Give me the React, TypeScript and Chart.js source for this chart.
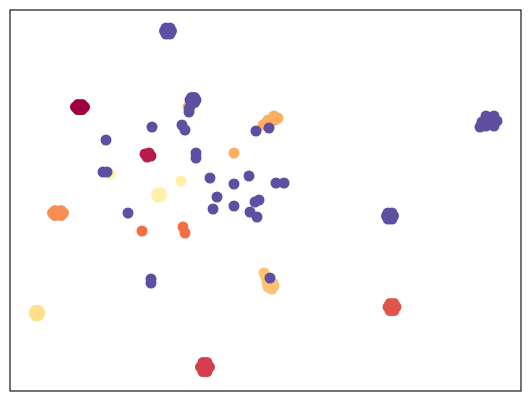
import React, { useEffect, useRef } from "react";
import { Chart, registerables } from "chart.js";

Chart.register(...registerables);

type P = [number, number];

const purple: P[] = [
  [158, 21], [161.5, 21], [160, 24], [156, 24], [154.5, 21], [156, 18], [160, 18],
  [183, 90], [186, 90], [184.5, 92.6], [181.5, 92.6], [180, 90], [181.5, 87.4], [184.5, 87.4],
  [179.5, 98], [179, 102],
  [142, 117], [172, 115], [175, 120], [96, 130], [186, 143], [186, 148],
  [93, 162], [97, 162], [200, 168], [224, 174], [239, 166], [266, 173], [274, 173],
  [207, 187], [203, 199], [224, 196], [245, 192], [249, 190], [240, 202], [247, 207],
  [246, 121], [259, 118], [118, 203], [141, 269], [141, 273], [260, 268],
  [479, 111], [487, 111], [484, 116], [476, 116], [472, 112], [476, 106], [484, 106], [480, 108], [480, 114], [470, 117],
  [380, 206], [383.5, 206], [382, 209], [378, 209], [376.5, 206], [378, 203], [382, 203],
];
const maroon: P[] = [[70, 97], [74.5, 97], [72, 99.5], [68, 99.5], [65.5, 97], [68, 94.5], [72, 94.5]];
const crimson: P[] = [[138, 145], [141, 146], [135, 144], [137, 147], [139, 143]];
const red: P[] = [[195, 357], [199.5, 357], [197, 361.5], [193, 361.5], [190.5, 357], [193, 352.5], [197, 352.5]];
const redOrange: P[] = [[382, 297], [386, 297], [384, 300.5], [380, 300.5], [378, 297], [380, 293.5], [384, 293.5]];
const orange: P[] = [[132, 221], [173, 217], [175, 223]];
const orange2: P[] = [[48, 203], [53.5, 203], [51, 205.5], [45, 205.5], [42.5, 203], [45, 200.5], [51, 200.5]];
const lightOrange: P[] = [
  [224, 143], [253, 115], [258, 110], [264, 106], [268, 108], [261, 112], [265, 110], [256, 113], [178, 97],
];
const lighterOrange: P[] = [
  [254, 263], [260, 278], [263, 273], [257, 273], [256, 268], [259, 272], [264, 276], [262, 279], [258, 277],
];
const yellow: P[] = [[27, 303], [30, 303], [28.5, 305.6], [25.5, 305.6], [24, 303], [25.5, 300.4], [28.5, 300.4]];
const paleYellow: P[] = [[149, 185], [151.5, 185], [150, 187], [147.5, 187], [146.5, 185], [148, 183], [151, 183], [171, 171], [100, 164]];

const groups: { pts: P[]; color: string }[] = [
  { pts: purple, color: "#5e4fa2" },
  { pts: maroon, color: "#9e0142" },
  { pts: crimson, color: "#b81b4a" },
  { pts: red, color: "#d53e4f" },
  { pts: redOrange, color: "#e1564a" },
  { pts: orange, color: "#f46d43" },
  { pts: orange2, color: "#f98e52" },
  { pts: lightOrange, color: "#fdae61" },
  { pts: lighterOrange, color: "#fec272" },
  { pts: yellow, color: "#fee08b" },
  { pts: paleYellow, color: "#fff0a6" },
];

const framePlugin = {
  id: "frame",
  afterDraw(chart: any) {
    const { ctx, chartArea } = chart;
    ctx.save();
    ctx.strokeStyle = "#000";
    ctx.lineWidth = 1.1;
    ctx.strokeRect(chartArea.left, chartArea.top, chartArea.right - chartArea.left, chartArea.bottom - chartArea.top);
    ctx.restore();
  },
};

export default function App() {
  const ref = useRef<HTMLCanvasElement>(null);
  useEffect(() => {
    document.body.style.margin = "0";
    const chart = new Chart(ref.current!, {
      type: "scatter",
      data: {
        datasets: groups.map((g) => ({
          data: g.pts.map(([x, y]) => ({ x, y })),
          backgroundColor: g.color,
          borderWidth: 0,
          pointRadius: 5.5,
        })),
      },
      options: {
        animation: false,
        responsive: false,
        layout: { padding: { left: 10, top: 10, right: 10, bottom: 10 } },
        plugins: { legend: { display: false }, tooltip: { enabled: false } },
        scales: {
          x: { display: false, min: 0, max: 511 },
          y: { display: false, min: 0, max: 381, reverse: true },
        },
      },
      plugins: [framePlugin],
    });
    return () => chart.destroy();
  }, []);
  return <canvas ref={ref} width={531} height={401} style={{ display: "block" }} />;
}
